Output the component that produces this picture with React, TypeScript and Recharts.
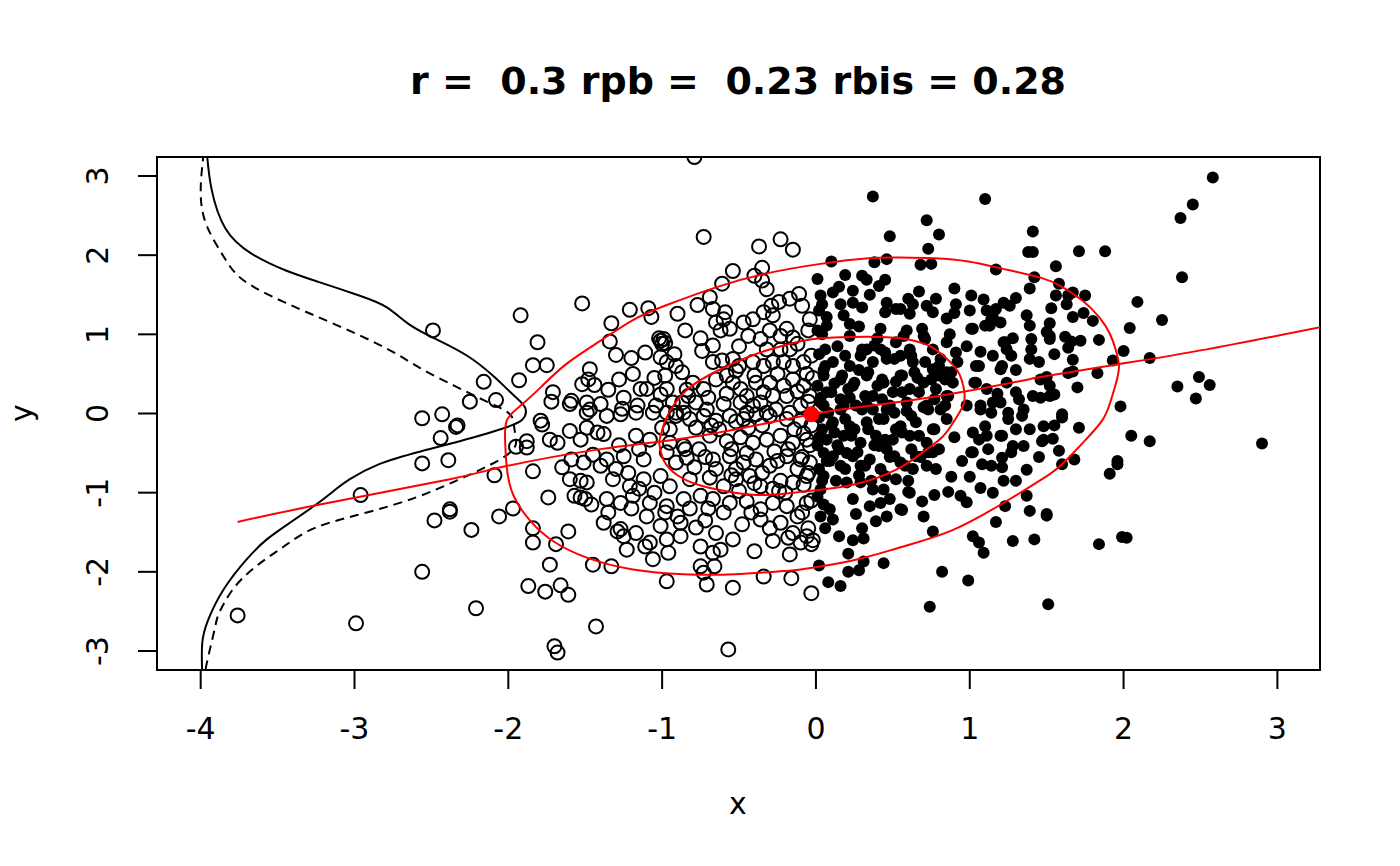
import React from 'react';
import { ScatterChart, Scatter, XAxis, YAxis, ReferenceArea } from 'recharts';

type Pt = [number, number];

const xTicks = [-4, -3, -2, -1, 0, 1, 2, 3];
const yTicks = [-3, -2, -1, 0, 1, 2, 3];
const titleText = 'r =  0.3 rpb =  0.23 rbis = 0.28';

// points left of the cut (open circles)
const openPoints: Pt[] = [
  [-1.92, 1.24], [-2.49, 1.05], [-1.84, 0.61], [-2.16, 0.40], [-1.93, 0.42], [-2.25, 0.15], [-2.08, 0.17],
  [-2.56, -0.06], [-2.43, -0.01], [-2.34, -0.17], [-2.33, -0.15], [-2.44, -0.31], [-2.56, -0.63], [-2.39, -0.59],
  [-1.95, -0.42], [-1.88, -0.35], [-1.88, -0.43], [-1.84, -0.73], [-2.09, -0.78], [-2.96, -1.03], [-2.38, -1.21],
  [-2.38, -1.24], [-2.48, -1.35], [-1.97, -1.20], [-2.06, -1.30], [-2.24, -1.47], [-1.84, -1.45], [-1.84, -1.63],
  [-2.56, -2.00], [-1.87, -2.18], [-2.21, -2.46], [-3.76, -2.55], [-2.99, -2.65],
  [-0.79, 3.24], [-0.73, 2.23], [-0.37, 2.11], [-0.23, 2.20], [-0.15, 2.07], [-1.52, 1.39], [-0.54, 1.80],
  [-0.35, 1.84], [-0.40, 1.74], [-0.61, 1.64], [-0.35, 1.68], [-0.32, 1.57], [-0.69, 1.47], [-0.77, 1.37],
  [-0.90, 1.26], [-1.09, 1.33], [-1.07, 1.22], [-1.21, 1.31], [-1.33, 1.14], [-1.34, 0.91], [-1.30, 0.74],
  [-1.81, 0.90], [-1.75, 0.61], [-1.71, 0.27], [-1.72, 0.15], [-1.59, 0.16], [-1.60, 0.12], [-1.52, 0.37],
  [-1.48, 0.43], [-1.47, 0.56], [-1.44, 0.36], [-1.49, 0.14], [-1.40, 0.12], [-1.28, 0.43], [-1.19, 0.50],
  [-1.26, 0.06], [-1.16, 0.10], [-1.11, 0.77], [-1.01, 0.92], [-0.99, 0.94], [-1.00, 0.88], [-0.98, 0.89],
  [-1.02, 0.95], [-1.01, 0.71], [-0.97, 0.65], [-0.92, 0.75], [-0.91, 0.60], [-0.87, 0.52], [-0.98, 0.48],
  [-1.10, 0.31], [-1.01, 0.24], [-0.97, 0.31], [-1.04, 0.10], [-0.93, 0.14], [-0.86, 0.01], [-0.80, 0.39],
  [-0.73, 0.31], [-0.78, 0.14], [-0.71, 0.05], [-0.74, 0.79], [-0.67, 0.86], [-0.62, 1.05], [-0.65, 1.15],
  [-0.60, 1.19], [-0.56, 1.07], [-0.67, 1.32], [-0.59, 1.28], [-0.67, 0.65], [-0.61, 0.67], [-0.54, 0.69],
  [-0.58, 0.48], [-0.52, 0.54], [-0.65, 0.43], [-0.54, 0.39], [-0.49, 0.31], [-0.45, 0.22], [-0.49, 0.14],
  [-0.41, 0.10], [-0.36, 0.14], [-0.45, 0.01], [-0.32, 0.01], [-0.47, 1.15], [-0.41, 1.19], [-0.34, 1.28],
  [-0.28, 1.24], [-0.29, 1.36], [-0.24, 1.41], [-0.17, 1.45], [-0.11, 1.51], [-0.09, 1.36], [-0.04, 1.19],
  [-0.44, 0.98], [-0.36, 0.94], [-0.30, 1.05], [-0.23, 0.98], [-0.19, 1.07], [-0.15, 0.96], [-0.32, 0.81],
  [-0.23, 0.81], [-0.17, 0.81], [-0.41, 0.65], [-0.34, 0.60], [-0.28, 0.65], [-0.21, 0.65], [-0.15, 0.60],
  [-0.08, 0.65], [-0.03, 0.73], [-0.39, 0.39], [-0.30, 0.39], [-0.21, 0.35], [-0.15, 0.43], [-0.08, 0.35],
  [-0.04, 0.22], [-0.19, 0.22], [-0.28, 0.22], [-0.34, 0.27], [-0.10, 0.10], [-0.17, 0.01], [-0.26, 0.05],
  [-0.83, 0.22], [-0.87, 0.14], [-0.91, 0.01], [-0.97, 0.01], [-1.14, 0.31],
  [-1.79, -0.09], [-1.78, -0.14], [-1.73, -0.33], [-1.68, -0.37], [-1.60, -0.22], [-1.53, -0.33], [-1.49, -0.18],
  [-1.42, -0.24], [-1.49, 0.01], [-1.47, 0.05], [-1.74, -1.06], [-1.73, -1.91], [-1.76, -2.25], [-1.66, -2.17],
  [-1.61, -2.29], [-1.69, -1.65], [-1.61, -1.49], [-1.65, -0.68], [-1.60, -0.83], [-1.53, -0.85], [-1.49, -0.87],
  [-1.57, -1.04], [-1.50, -1.08], [-1.46, -1.15], [-1.53, -1.06], [-1.59, -0.58], [-1.51, -0.62], [-1.45, -0.52],
  [-1.40, -0.66], [-1.45, -1.91], [-1.33, -1.93], [-1.23, -1.72], [-1.11, -1.68], [-1.06, -1.84], [-0.96, -1.76],
  [-0.97, -2.12], [-1.43, -2.69], [-1.70, -2.94], [-1.68, -3.02], [-0.57, -2.98], [-0.75, -1.93], [-0.66, -1.93],
  [-0.73, -2.01], [-0.71, -2.16], [-0.62, -1.72], [-0.67, -1.76], [-0.75, -1.68], [-0.54, -2.20], [-0.40, -1.74],
  [-0.34, -2.06], [-0.16, -2.08], [-0.03, -2.27], [-0.28, -1.61], [-0.18, -1.57], [-0.17, -1.78], [-0.10, -1.63],
  [-0.03, -1.65], [-1.29, -1.49], [-1.25, -1.55], [-0.88, -1.55],
  [-1.36, -0.03], [-1.27, -0.01], [-1.17, 0.01], [-1.06, 0.01], [-0.91, -0.03], [-0.82, -0.07], [-0.73, -0.03],
  [-0.65, -0.09], [-0.56, -0.03], [-0.47, -0.07], [-0.39, -0.01], [-0.30, -0.03], [-0.19, -0.07], [-0.10, -0.09],
  [-1.38, -0.26], [-1.17, -0.28], [-1.08, -0.33], [-0.95, -0.37], [-0.86, -0.41], [-0.69, -0.28], [-0.58, -0.35],
  [-0.49, -0.30], [-0.41, -0.37], [-0.32, -0.33], [-0.23, -0.28], [-0.15, -0.37], [-0.06, -0.33],
  [-1.36, -0.58], [-1.25, -0.54], [-1.12, -0.58], [-0.97, -0.49], [-0.91, -0.62], [-0.84, -0.56], [-0.67, -0.58],
  [-0.56, -0.54], [-0.47, -0.62], [-0.39, -0.58], [-0.30, -0.66], [-0.19, -0.54], [-0.10, -0.58], [-0.04, -0.62],
  [-1.32, -0.83], [-1.21, -0.92], [-1.12, -0.83], [-1.01, -0.79], [-0.82, -0.83], [-0.69, -0.81], [-0.60, -0.92],
  [-0.52, -0.83], [-0.43, -0.79], [-0.36, -0.92], [-0.23, -0.85], [-0.15, -0.87], [-0.06, -0.79],
  [-1.36, -1.08], [-1.27, -1.13], [-1.19, -1.04], [-1.08, -1.13], [-0.97, -1.17], [-0.86, -1.08], [-0.75, -1.04],
  [-0.67, -1.08], [-0.56, -1.13], [-0.45, -1.11], [-0.36, -1.21], [-0.28, -1.13], [-0.19, -1.17], [-0.06, -1.13],
  [-1.38, -1.38], [-1.27, -1.46], [-1.17, -1.51], [-1.01, -1.42], [-0.88, -1.38], [-0.78, -1.44], [-0.65, -1.51],
  [-0.54, -1.59], [-0.36, -1.34], [-0.23, -1.38], [-0.15, -1.51], [-0.06, -1.55], [-0.97, -1.59], [-1.08, -1.63],
  [-0.05, 1.05], [-0.06, 0.50], [-0.02, 0.45], [-0.05, 0.15], [-0.03, -0.15], [-0.08, -0.25], [-0.04, -0.40],
  [-0.09, -0.55], [-0.05, -0.75], [-0.08, -0.90], [-0.03, -1.10], [-0.09, -1.25], [-0.05, -1.45], [-0.02, -1.60],
  [-0.63, -0.20], [-0.44, -0.18], [-0.27, -0.48], [-0.52, -0.70], [-0.79, -0.68], [-0.95, -0.92], [-0.35, -0.75],
  [-0.14, -0.20], [-0.76, -0.45], [-1.00, -0.18], [-0.60, 0.12], [-0.24, -0.98], [-0.50, -0.98], [-0.70, -1.20],
  [-1.30, -0.70], [-1.22, -0.75], [-1.15, -0.95], [-1.05, -1.00], [-0.98, -1.25], [-1.10, -1.30], [-1.20, -1.20],
  [-1.35, -1.25], [-0.90, -1.30], [-0.82, -1.20], [-0.72, -1.35], [-0.60, -1.25], [-0.48, -1.40], [-0.42, -1.25],
  [-0.30, -1.45], [-0.12, -1.30], [-0.20, -1.00], [-0.28, -0.95], [-0.40, -0.88], [-0.55, -0.78], [-0.65, -0.70],
  [-0.72, -0.55], [-0.85, -0.45], [-0.95, -0.20], [-0.78, -0.18], [-0.55, -0.45], [-0.45, -0.50], [-0.25, -0.60],
  [-0.12, -0.70], [-0.18, -0.45], [-0.35, -0.15], [-0.52, -0.10], [-0.68, -0.15], [-0.84, 0.30], [-0.70, 0.20],
  [-0.58, 0.25], [-0.40, 0.48], [-0.25, 0.50], [-0.12, 0.28], [-0.50, 0.60], [-0.75, 0.95], [-0.85, 1.05],
  [-0.50, 0.85], [-0.12, 0.88], [-1.20, 0.70], [-1.25, 0.20], [-1.05, 0.45], [-1.35, 0.30], [-1.15, -0.45],
  [-1.28, -0.40],
];

// points right of the cut (filled dots)
const filledPoints: Pt[] = [
  [0.37, 2.74], [1.10, 2.71], [0.72, 2.44], [0.48, 2.24], [0.80, 2.26], [1.41, 2.30], [0.73, 2.08], [1.38, 2.04],
  [1.41, 2.04], [0.10, 1.92], [0.38, 1.91], [0.46, 1.95], [0.68, 1.88], [0.75, 1.89], [1.17, 1.82], [0.01, 1.70],
  [0.19, 1.75], [0.30, 1.74], [0.33, 1.69], [0.45, 1.69], [0.41, 1.61], [1.42, 1.72], [0.24, 1.55], [0.11, 1.53],
  [0.03, 1.49], [0.04, 1.38], [0.67, 1.54], [0.90, 1.58], [1.01, 1.49], [1.39, 1.58], [0.78, 1.45], [1.09, 1.44],
  [1.30, 1.46], [0.16, 1.38], [0.24, 1.40], [0.30, 1.34], [0.46, 1.40], [0.55, 1.32], [0.63, 1.38], [0.72, 1.36],
  [0.91, 1.38], [1.22, 1.40], [1.17, 1.32], [1.26, 1.36], [0.45, 1.28], [0.52, 1.32], [0.61, 1.26], [0.76, 1.28],
  [0.90, 1.27], [1.11, 1.30], [0.07, 1.22], [0.18, 1.24], [0.22, 1.13], [0.01, 1.05], [0.07, 1.11], [1.15, 1.22],
  [1.13, 1.11], [1.20, 1.15], [1.02, 1.07], [1.37, 1.24], [1.39, 1.11], [1.50, 1.03], [0.42, 1.07], [0.59, 1.05],
  [0.69, 1.07], [0.71, 0.94], [0.57, 0.98], [0.87, 1.00], [0.85, 0.90], [0.91, 0.77], [1.07, 0.78], [1.22, 0.90],
  [1.24, 0.81], [1.40, 0.94], [1.40, 0.81], [1.39, 0.69],
  [0.22, 0.98], [0.33, 0.81], [0.42, 0.81], [0.37, 0.65], [0.29, 0.73], [0.46, 0.69], [0.55, 0.73], [0.63, 0.65],
  [0.61, 0.81], [0.70, 0.98], [0.76, 0.81], [0.81, 0.69], [0.76, 0.56], [0.85, 0.52], [0.89, 0.39], [0.55, 0.48],
  [0.44, 0.39], [0.33, 0.48], [0.22, 0.60], [0.11, 0.65], [0.16, 0.43], [0.05, 0.48], [0.24, 0.35], [0.37, 0.22],
  [0.50, 0.27], [0.61, 0.31], [0.70, 0.39], [0.78, 0.31], [0.85, 0.22], [0.33, 0.10], [0.46, 0.05], [0.59, 0.14],
  [0.72, 0.10], [0.16, 0.18], [0.07, 0.27], [0.03, 0.14],
  [1.04, 0.60], [1.15, 0.73], [1.20, 0.56], [1.04, 0.39], [1.11, 0.31], [1.24, 0.39], [1.30, 0.27], [1.41, 0.22],
  [1.46, 0.43], [1.20, 0.14], [1.35, 0.05], [1.07, 0.10],
  [0.05, 0.10], [0.16, 0.05], [0.26, 0.10], [0.37, 0.05], [0.48, 0.10], [0.59, 0.03], [0.70, 0.08], [0.81, 0.05],
  [0.11, -0.11], [0.22, -0.16], [0.33, -0.11], [0.44, -0.07], [0.55, -0.16], [0.65, -0.11], [0.76, -0.20],
  [0.85, -0.07], [0.07, -0.33], [0.18, -0.28], [0.29, -0.37], [0.39, -0.28], [0.50, -0.33], [0.61, -0.28],
  [0.72, -0.37], [0.11, -0.54], [0.24, -0.54], [0.35, -0.58], [0.46, -0.45], [0.55, -0.62], [0.65, -0.54],
  [0.76, -0.49], [0.16, -0.66], [0.29, -0.66], [0.42, -0.70], [0.52, -0.83], [0.63, -0.70], [0.72, -0.66],
  [0.78, -0.70], [0.20, -0.87], [0.29, -0.87], [0.37, -0.96], [0.44, -0.96], [0.24, -1.08], [0.35, -1.17],
  [0.42, -1.13], [0.48, -1.08], [0.55, -1.21], [0.61, -1.00], [0.26, -1.27], [0.39, -1.36], [0.09, -1.21],
  [0.03, -0.96], [0.05, -0.79], [0.11, -1.34],
  [0.15, -1.55], [0.24, -1.60], [0.31, -1.58], [0.21, -1.77], [0.31, -1.87], [0.28, -1.98], [0.21, -2.00],
  [0.02, -1.92], [0.08, -2.13], [0.16, -2.18], [0.44, -1.89], [0.76, -1.49], [0.82, -2.00], [0.99, -2.11],
  [0.74, -2.44], [1.02, -1.55], [1.06, -1.63], [1.09, -1.76], [1.28, -1.61], [1.42, -1.59], [1.17, -1.37],
  [0.60, -0.99], [0.69, -1.11], [0.77, -1.03], [0.86, -0.99], [0.94, -1.04], [0.98, -1.12], [0.56, -1.22],
  [0.98, 0.10], [1.07, 0.05], [1.15, 0.14], [1.25, 0.01], [1.34, -0.03], [1.39, -0.20], [1.48, -0.33],
  [1.02, -0.24], [1.11, -0.28], [1.20, -0.28], [1.28, -0.41], [1.35, -0.41], [1.02, -0.49], [1.08, -0.64],
  [1.21, -0.56], [1.21, -0.68], [1.22, -0.85], [1.37, -0.71], [1.07, -0.94], [1.37, -1.04], [1.39, -1.23],
  [1.50, -1.27], [1.23, -1.17],
  [2.58, 2.98], [2.45, 2.64], [2.37, 2.47], [1.71, 2.05], [1.88, 2.05], [1.56, 1.86], [2.38, 1.72], [1.58, 1.64],
  [1.56, 1.49], [1.64, 1.49], [1.67, 1.53], [1.75, 1.49], [1.63, 1.38], [1.53, 1.33], [1.52, 1.14], [1.52, 0.98],
  [1.52, 0.94], [1.67, 1.22], [1.74, 1.27], [1.80, 1.17], [2.09, 1.41], [2.25, 1.18], [2.04, 1.08], [1.62, 0.97],
  [1.66, 0.91], [1.72, 0.92], [1.64, 0.83], [1.84, 0.93], [1.67, 0.68], [2.00, 0.79], [1.93, 0.67], [2.17, 0.70],
  [1.64, 0.51], [1.67, 0.53], [1.83, 0.51], [1.50, 0.46], [1.52, 0.35], [1.55, 0.24], [1.46, 0.20], [1.52, 0.22],
  [1.70, 0.33], [2.49, 0.46], [2.56, 0.36], [2.35, 0.34], [2.47, 0.19], [1.98, 0.09], [1.60, -0.01], [1.60, -0.05],
  [1.55, -0.15], [1.48, -0.16], [1.71, -0.18], [1.54, -0.32], [1.47, -0.35], [2.05, -0.28], [2.17, -0.35],
  [2.90, -0.38], [1.58, -0.47], [1.60, -0.64], [1.68, -0.58], [1.96, -0.60], [1.96, -0.64], [1.91, -0.76],
  [1.50, -1.29], [1.99, -1.56], [2.02, -1.57], [1.84, -1.65], [1.51, -2.41],
  [0.06, 0.81], [0.19, 0.73], [0.30, 0.81], [0.38, 0.86], [0.45, 0.77], [0.51, 0.69], [0.62, 0.73], [0.71, 0.65],
  [0.80, 0.60], [0.88, 0.52], [0.06, 0.60], [0.17, 0.48], [0.25, 0.39], [0.34, 0.52], [0.43, 0.43], [0.56, 0.48],
  [0.64, 0.52], [0.75, 0.43], [0.84, 0.43], [0.10, 0.27], [0.21, 0.31], [0.32, 0.22], [0.43, 0.18], [0.56, 0.27],
  [0.67, 0.27], [0.77, 0.18], [0.86, 0.22], [0.08, 0.01], [0.19, -0.07], [0.30, 0.05], [0.41, -0.07], [0.51, 0.01],
  [0.62, -0.03], [0.73, 0.05], [0.84, 0.10], [0.12, -0.24], [0.23, -0.28], [0.34, -0.20], [0.45, -0.33],
  [0.56, -0.24], [0.67, -0.28], [0.77, -0.20], [0.15, -0.45], [0.27, -0.49], [0.41, -0.41], [0.51, -0.54],
  [0.62, -0.45], [0.73, -0.49], [0.19, -0.70], [0.32, -0.66], [0.45, -0.79], [0.58, -0.66],
  [1.01, -0.49], [1.06, -0.33], [1.10, -0.16], [1.14, 0.01], [1.25, -0.07], [1.21, -0.28], [1.27, -0.49],
  [1.14, -0.66], [1.01, 1.07], [1.10, 1.11], [1.14, 1.19], [1.23, 0.90], [1.27, 0.73], [1.21, 0.60], [1.06, 0.60],
  [1.03, 0.39], [1.32, 0.18],
  [0.02, 1.30], [0.04, 1.00], [0.02, 0.75], [0.05, 0.55], [0.01, 0.35], [0.03, 0.20], [0.02, -0.05], [0.04, -0.20],
  [0.01, -0.40], [0.05, -0.50], [0.02, -0.70], [0.04, -0.85], [0.01, -1.05], [0.05, -1.15], [0.03, -1.30],
  [0.06, -1.45], [0.02, -0.30], [0.07, -0.60],
  [0.10, -0.15], [0.14, -0.40], [0.09, -0.60], [0.13, -0.85], [0.20, -0.50], [0.25, -0.20], [0.28, -0.78],
  [0.18, 0.10], [0.12, 0.38], [0.22, 0.20], [0.28, 0.55], [0.14, 0.85], [0.38, -0.40], [0.48, -0.55],
  [0.36, -0.85], [0.52, -0.20], [0.60, -0.85], [0.68, -0.55], [0.80, -0.45], [0.90, -0.30], [0.95, -0.60],
  [0.88, -0.80], [0.40, 0.35], [0.52, 0.40], [0.66, 0.45], [0.80, 0.48], [0.92, 0.65], [0.98, 0.85],
  [0.52, 0.90], [0.40, 0.95], [0.28, 1.10], [0.85, 1.20], [1.00, 1.30], [0.60, 1.45], [0.35, 1.50], [0.15, 1.60],
  [1.28, 0.95], [1.30, 0.55], [1.18, 0.25], [1.12, -0.45], [1.30, -0.85], [1.15, -1.00], [1.00, -0.80],
  [0.70, -1.30], [0.46, -1.30], [0.30, -1.45], [1.45, 0.65], [1.55, 0.75], [1.45, -0.55], [1.30, -0.20],
];

const solidDensity: Pt[] = [
  [-3.96, 3.30], [-3.93, 2.84], [-3.84, 2.34], [-3.67, 2.02], [-3.45, 1.81], [-3.23, 1.66], [-2.97, 1.49],
  [-2.79, 1.34], [-2.64, 1.12], [-2.46, 0.93], [-2.26, 0.72], [-2.09, 0.46], [-1.96, 0.22], [-1.89, 0.07],
  [-1.91, -0.08], [-2.02, -0.18], [-2.24, -0.31], [-2.57, -0.48], [-2.84, -0.64], [-3.03, -0.83], [-3.13, -0.97],
  [-3.25, -1.15], [-3.42, -1.38], [-3.57, -1.59], [-3.70, -1.84], [-3.85, -2.22], [-3.95, -2.60], [-3.99, -2.90],
  [-3.99, -3.30],
];

const dashedDensity: Pt[] = [
  [-3.98, 3.30], [-4.00, 2.79], [-3.96, 2.37], [-3.85, 1.98], [-3.72, 1.68], [-3.45, 1.40], [-3.12, 1.12],
  [-2.79, 0.82], [-2.57, 0.57], [-2.35, 0.35], [-2.15, 0.16], [-1.99, -0.01], [-1.96, -0.20], [-1.96, -0.43],
  [-2.12, -0.65], [-2.34, -0.85], [-2.60, -1.06], [-2.92, -1.25], [-3.25, -1.44], [-3.46, -1.68], [-3.64, -1.93],
  [-3.79, -2.22], [-3.88, -2.52], [-3.91, -2.73], [-3.96, -3.15], [-3.97, -3.30],
];

const outerEllipse: Pt[] = [
  [-2.02, -0.38], [-2.01, -0.09], [-1.92, 0.10], [-1.79, 0.33], [-1.62, 0.63], [-1.40, 0.92], [-1.19, 1.18],
  [-0.97, 1.37], [-0.64, 1.60], [-0.32, 1.77], [0.03, 1.89], [0.34, 1.96], [0.55, 1.97], [0.77, 1.96],
  [0.99, 1.92], [1.21, 1.83], [1.47, 1.71], [1.60, 1.60], [1.73, 1.43], [1.84, 1.22], [1.91, 1.01], [1.95, 0.80],
  [1.97, 0.59], [1.95, 0.38], [1.91, 0.12], [1.86, -0.09], [1.75, -0.34], [1.60, -0.64], [1.47, -0.83],
  [1.21, -1.14], [0.88, -1.48], [0.55, -1.69], [0.23, -1.86], [-0.10, -1.97], [-0.21, -1.99], [-0.53, -2.03],
  [-0.86, -2.03], [-1.19, -1.97], [-1.49, -1.82], [-1.71, -1.61], [-1.86, -1.35], [-1.97, -1.02], [-2.01, -0.68],
  [-2.02, -0.38],
];

const innerEllipse: Pt[] = [
  [-1.02, -0.36], [-0.98, -0.09], [-0.92, 0.12], [-0.82, 0.33], [-0.64, 0.54], [-0.42, 0.73], [-0.21, 0.86],
  [0.03, 0.95], [0.34, 0.97], [0.55, 0.95], [0.73, 0.86], [0.84, 0.71], [0.92, 0.54], [0.96, 0.33], [0.96, 0.12],
  [0.90, -0.09], [0.82, -0.30], [0.68, -0.51], [0.55, -0.68], [0.34, -0.85], [0.12, -0.94], [-0.10, -0.99],
  [-0.32, -1.03], [-0.53, -1.00], [-0.75, -0.91], [-0.90, -0.78], [-0.99, -0.59], [-1.02, -0.36],
];

const smoothLine: Pt[] = [
  [-3.76, -1.37], [-3.25, -1.16], [-2.38, -0.83], [-2.05, -0.68], [-1.40, -0.45], [-0.75, -0.28], [-0.03, -0.01],
  [0.36, 0.10], [0.80, 0.22], [1.33, 0.41], [1.46, 0.46], [1.96, 0.62], [2.54, 0.81], [3.28, 1.09],
];

const meanPoint: Pt[] = [[-0.03, -0.01]];

const toRows = (pts: Pt[]) => pts.map(([x, y]) => ({ x, y }));

const FONT = '"DejaVu Sans", sans-serif';

const OpenCircle = (p: any) => (
  <circle cx={p.cx} cy={p.cy} r={7} fill="none" stroke="#000" strokeWidth={2} />
);
const FilledDot = (p: any) => <circle cx={p.cx} cy={p.cy} r={6} fill="#000" />;
const MeanDot = (p: any) => <circle cx={p.cx} cy={p.cy} r={8} fill="#ff0000" />;
const NoDot = () => <g />;

const XTick = (p: any) => (
  <text x={p.x} y={739} textAnchor="middle" fontSize={30} fontFamily={FONT} fill="#000">
    {p.payload.value}
  </text>
);

const YTick = (p: any) => (
  <text
    x={108}
    y={p.y}
    transform={`rotate(-90, 108, ${p.y})`}
    textAnchor="middle"
    fontSize={30}
    fontFamily={FONT}
    fill="#000"
  >
    {p.payload.value}
  </text>
);

export default function App() {
  return (
    <div style={{ position: 'relative', width: 1400, height: 866, background: '#fff' }}>
      <style>{'body{margin:0;}'}</style>
      <ScatterChart width={1400} height={866} margin={{ top: 157, right: 80, bottom: 0, left: 0 }}>
        <XAxis
          type="number"
          dataKey="x"
          domain={[-4.284, 3.277]}
          ticks={xTicks}
          interval={0}
          allowDataOverflow
          height={196}
          axisLine={false}
          tickSize={19}
          tickLine={{ stroke: '#000', strokeWidth: 2 }}
          tick={XTick}
        />
        <YAxis
          type="number"
          dataKey="y"
          domain={[-3.24, 3.24]}
          ticks={yTicks}
          interval={0}
          allowDataOverflow
          width={157}
          axisLine={false}
          tickSize={19}
          tickLine={{ stroke: '#000', strokeWidth: 2 }}
          tick={YTick}
        />
        <Scatter data={toRows(openPoints)} shape={OpenCircle} isAnimationActive={false} />
        <Scatter data={toRows(filledPoints)} shape={FilledDot} isAnimationActive={false} />
        <Scatter
          data={toRows(solidDensity)}
          shape={NoDot}
          line={{ stroke: '#000', strokeWidth: 2 }}
          lineType="joint"
          lineJointType="natural"
          isAnimationActive={false}
        />
        <Scatter
          data={toRows(dashedDensity)}
          shape={NoDot}
          line={{ stroke: '#000', strokeWidth: 2, strokeDasharray: '9 6' }}
          lineType="joint"
          lineJointType="natural"
          isAnimationActive={false}
        />
        <Scatter
          data={toRows(outerEllipse)}
          shape={NoDot}
          line={{ stroke: '#ff0000', strokeWidth: 2 }}
          lineType="joint"
          lineJointType="natural"
          isAnimationActive={false}
        />
        <Scatter
          data={toRows(innerEllipse)}
          shape={NoDot}
          line={{ stroke: '#ff0000', strokeWidth: 2 }}
          lineType="joint"
          lineJointType="natural"
          isAnimationActive={false}
        />
        <Scatter
          data={toRows(smoothLine)}
          shape={NoDot}
          line={{ stroke: '#ff0000', strokeWidth: 2 }}
          lineType="joint"
          lineJointType="natural"
          isAnimationActive={false}
        />
        <Scatter data={toRows(meanPoint)} shape={MeanDot} isAnimationActive={false} />
        <ReferenceArea
          x1={-4.284}
          x2={3.277}
          y1={-3.24}
          y2={3.24}
          fill="none"
          fillOpacity={0}
          stroke="#000"
          strokeWidth={2}
          ifOverflow="visible"
        />
      </ScatterChart>
      <svg
        width={1400}
        height={866}
        style={{ position: 'absolute', left: 0, top: 0, pointerEvents: 'none' }}
      >
        <text
          x={738}
          y={94}
          textAnchor="middle"
          fontSize={38}
          fontWeight="bold"
          fontFamily={FONT}
          style={{ whiteSpace: 'pre' }}
          xmlSpace="preserve"
        >
          {titleText}
        </text>
        <text x={738} y={814} textAnchor="middle" fontSize={30} fontFamily={FONT}>
          x
        </text>
        <text x={-413} y={32} transform="rotate(-90)" textAnchor="middle" fontSize={30} fontFamily={FONT}>
          y
        </text>
      </svg>
    </div>
  );
}
